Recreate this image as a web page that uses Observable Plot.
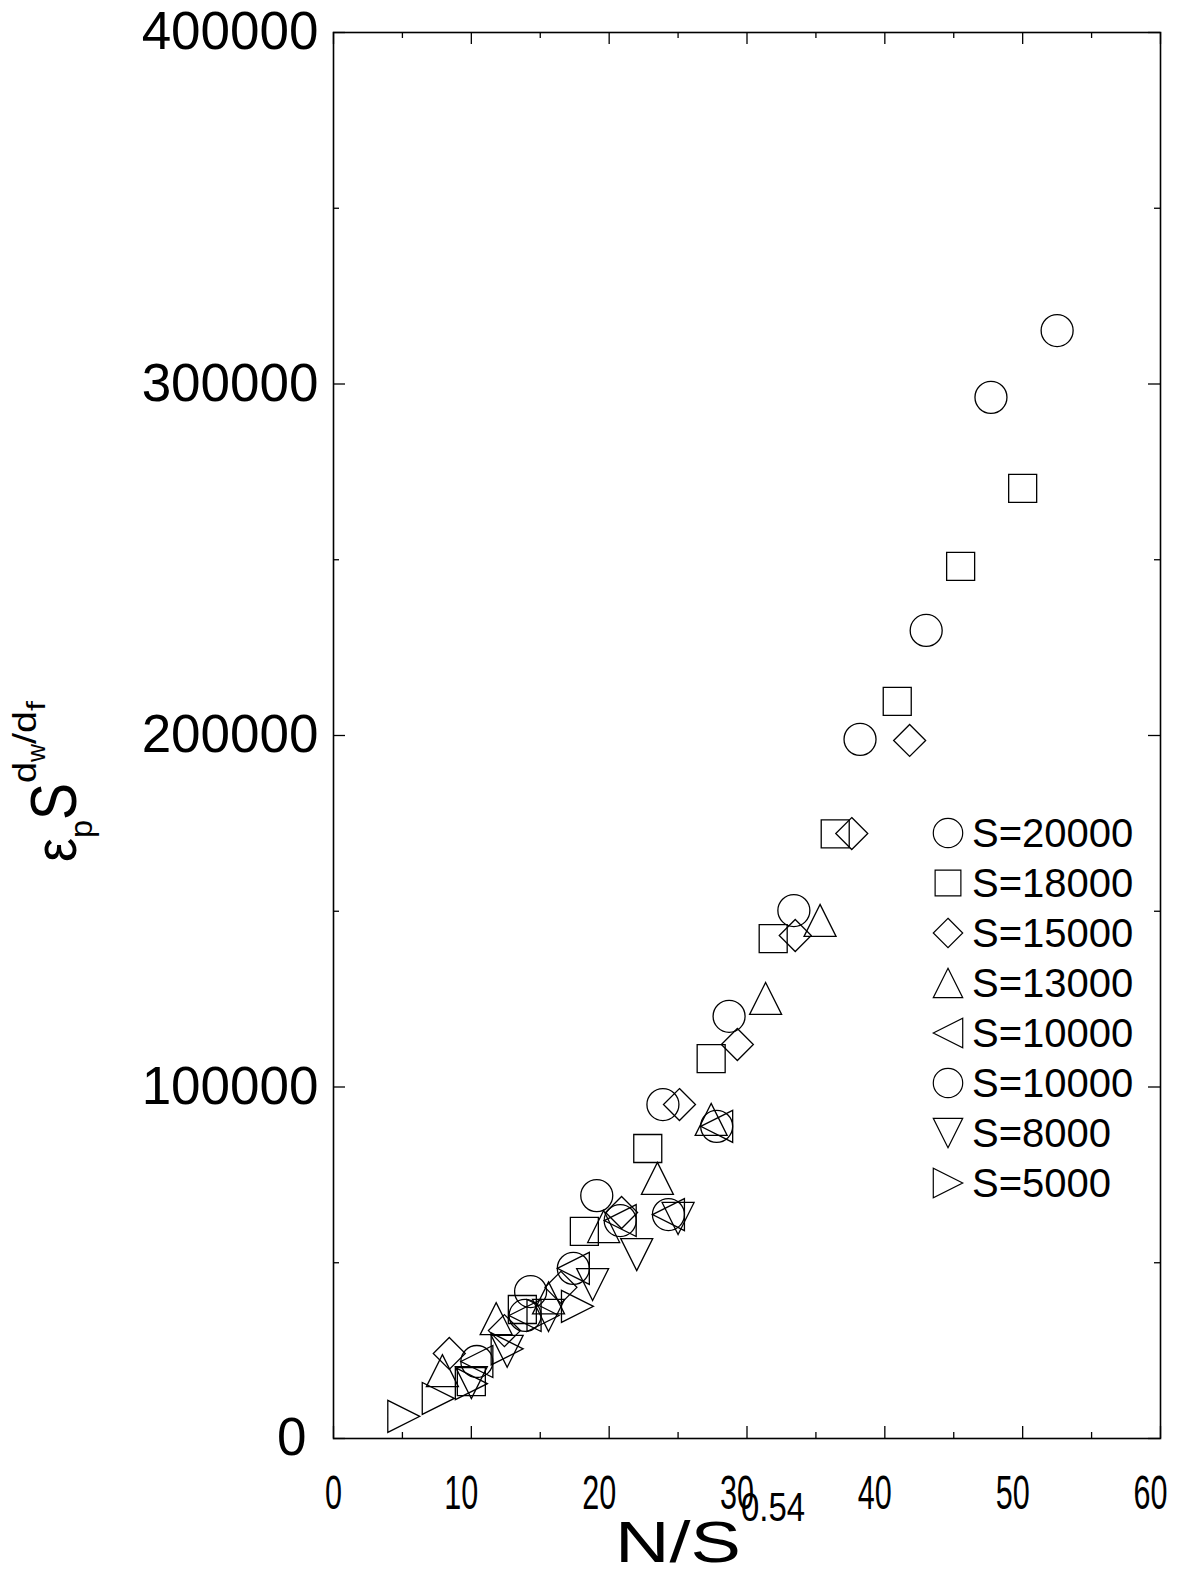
<!DOCTYPE html>
<html><head><meta charset="utf-8">
<script src="https://cdn.jsdelivr.net/npm/d3@7"></script>
<script src="https://cdn.jsdelivr.net/npm/@observablehq/plot@0.6"></script>
<style>body{margin:0;background:#fff;} svg{display:block;}</style>
</head><body><div id="chart"></div>
<script>
// ---- tick values ----
const xTicks = [0, 10, 20, 30, 40, 50, 60];
const xMinorTicks = [5, 15, 25, 35, 45, 55];
const yTicks = [0, 100000, 200000, 300000, 400000];
const yMinorTicks = [50000, 150000, 250000, 350000];

// ---- series data ----
const s20000x = [14.3, 19.1, 23.9, 28.7, 33.4, 38.2, 43.0, 47.7, 52.5];
const s20000y = [41800, 69100, 95000, 120100, 150200, 198900, 229900, 296200, 315200];

const s18000x = [10.0, 13.7, 18.2, 22.8, 27.4, 31.9, 36.4, 40.9, 45.5, 50.0];
const s18000y = [16200, 36700, 58900, 82500, 108100, 142200, 172000, 209700, 248100, 270300];

const s15000x = [8.4, 12.4, 16.5, 20.9, 25.1, 29.3, 33.5, 37.6, 41.8];
const s15000y = [24200, 30700, 43000, 64300, 95000, 112100, 143100, 172100, 198600];

const s13000x = [7.9, 11.8, 15.6, 19.6, 23.5, 27.4, 31.35, 35.3];
const s13000y = [19300, 34100, 40000, 60300, 74000, 90800, 125200, 147400];

const s10000ax = [10.4, 13.9, 17.4, 20.8, 24.3, 27.8];
const s10000ay = [21900, 35000, 48400, 62000, 63700, 88800];

const s10000bx = [10.4, 13.9, 17.4, 20.8, 24.3, 27.8];
const s10000by = [21900, 35000, 48400, 62000, 63700, 88800];

const s8000x = [10.0, 12.6, 15.6, 18.8, 22.0, 25.0];
const s8000y = [15900, 24800, 35000, 43800, 52300, 62600];

const s5000x = [5.1, 7.6, 10.0, 12.6, 15.2, 17.7];
const s5000y = [6300, 11400, 15600, 25500, 35000, 37600];

const legendLabels = ["S=20000", "S=18000", "S=15000", "S=13000", "S=10000", "S=10000", "S=8000", "S=5000"];
const legendShapes = ["circle", "square", "diamond", "up", "left", "circle", "down", "right"];

// ---- symbols ----
function tri(pts) {
  return {draw(ctx) { ctx.moveTo(pts[0][0], pts[0][1]); ctx.lineTo(pts[1][0], pts[1][1]); ctx.lineTo(pts[2][0], pts[2][1]); ctx.closePath(); }};
}
const R = 16;
const symbols = {
  circle: {draw(ctx) { ctx.moveTo(R, 0); ctx.arc(0, 0, R, 0, 2 * Math.PI); ctx.closePath(); }},
  square: {draw(ctx) { const h = 14; ctx.moveTo(-h, -h); ctx.lineTo(h, -h); ctx.lineTo(h, h); ctx.lineTo(-h, h); ctx.closePath(); }},
  diamond: {draw(ctx) { ctx.moveTo(0, -R); ctx.lineTo(R, 0); ctx.lineTo(0, R); ctx.lineTo(-R, 0); ctx.closePath(); }},
  up: tri([[0, -R], [R, R], [-R, R]]),
  down: tri([[0, R], [R, -R], [-R, -R]]),
  left: tri([[-R, 0], [R, -R], [R, R]]),
  right: tri([[R, 0], [-R, -R], [-R, R]])
};

const series = [
  {x: s20000x, y: s20000y, shape: "circle"},
  {x: s18000x, y: s18000y, shape: "square"},
  {x: s15000x, y: s15000y, shape: "diamond"},
  {x: s13000x, y: s13000y, shape: "up"},
  {x: s10000ax, y: s10000ay, shape: "left"},
  {x: s10000bx, y: s10000by, shape: "circle"},
  {x: s8000x, y: s8000y, shape: "down"},
  {x: s5000x, y: s5000y, shape: "right"}
];

const W = 1198, H = 1570;
const mL = 333, mR = 38, mT = 32, mB = 132;
const pw = W - mL - mR, ph = H - mT - mB;
const major = 12, minor = 6;
const FONT = "Liberation Sans, Arial, Helvetica, sans-serif";

const marks = [];
for (const s of series) {
  const rows = s.x.map((v, i) => ({x: v, y: s.y[i]}));
  marks.push(Plot.dot(rows, {x: "x", y: "y", symbol: symbols[s.shape], r: R, stroke: "black", strokeWidth: 1.3, fill: "none"}));
}
// inward ticks on all four sides
marks.push(
  Plot.tickX(xTicks, {x: d => d, insetTop: ph - major, stroke: "black", strokeWidth: 1.3}),
  Plot.tickX(xTicks, {x: d => d, insetBottom: ph - major, stroke: "black", strokeWidth: 1.3}),
  Plot.tickX(xMinorTicks, {x: d => d, insetTop: ph - minor, stroke: "black", strokeWidth: 1.3}),
  Plot.tickX(xMinorTicks, {x: d => d, insetBottom: ph - minor, stroke: "black", strokeWidth: 1.3}),
  Plot.tickY(yTicks, {y: d => d, insetRight: pw - major, stroke: "black", strokeWidth: 1.3}),
  Plot.tickY(yTicks, {y: d => d, insetLeft: pw - major, stroke: "black", strokeWidth: 1.3}),
  Plot.tickY(yMinorTicks, {y: d => d, insetRight: pw - minor, stroke: "black", strokeWidth: 1.3}),
  Plot.tickY(yMinorTicks, {y: d => d, insetLeft: pw - minor, stroke: "black", strokeWidth: 1.3}),
  Plot.frame({stroke: "black", strokeWidth: 1.6}),
  Plot.axisX(xTicks, {tickSize: 0, tickPadding: 36, fontSize: 48, fontFamily: FONT, fill: "black", label: null}),
  Plot.axisY(yTicks, {tickSize: 0, tickPadding: 15, fontSize: 53, fontFamily: FONT, fill: "black", label: null, tickFormat: d3.format("d")})
);

const svg = Plot.plot({
  width: W, height: H,
  marginLeft: mL, marginRight: mR, marginTop: mT, marginBottom: mB,
  x: {domain: [0, 60], label: null},
  y: {domain: [0, 400000], label: null},
  style: {fontFamily: FONT, background: "white", color: "black"},
  marks
});

const root = d3.select(svg);
// narrow x tick labels, laid out from a nominal (unnarrowed) centred start
root.selectAll("g[aria-label='x-axis tick label'] text").each(function() {
  const n = this.textContent.length;
  const dx = n === 1 ? -8.5 : -n * 13.5;
  d3.select(this).attr("text-anchor", "start").attr("dx", dx)
    .attr("textLength", n * 17).attr("lengthAdjust", "spacingAndGlyphs");
});
// the lone "0" y label sits a little left of the right edge line
root.selectAll("g[aria-label='y-axis tick label'] text").each(function() {
  if (this.textContent === "0") d3.select(this).attr("dx", -12);
});

// legend
const legX = 948, legY0 = 833, legDy = 50;
const lg = root.append("g").attr("font-family", FONT).attr("text-anchor", "start");
legendLabels.forEach((lab, i) => {
  const y = legY0 + i * legDy;
  lg.append("path")
    .attr("d", d3.symbol().type(symbols[legendShapes[i]])())
    .attr("transform", `translate(${legX},${y}) scale(0.92)`)
    .attr("fill", "none").attr("stroke", "black").attr("stroke-width", 1.3);
  lg.append("text").attr("x", 972).attr("y", y).attr("dy", "0.36em")
    .attr("font-size", 40).attr("fill", "black").text(lab);
});

// x axis label  N/S^0.54
const xl = root.append("text").attr("x", 615).attr("y", 1562).attr("text-anchor", "start").attr("font-family", FONT).attr("fill", "black");
xl.append("tspan").attr("font-size", 58).attr("textLength", 126).attr("lengthAdjust", "spacingAndGlyphs").text("N/S");
xl.append("tspan").attr("font-size", 40).attr("dy", -41).attr("textLength", 64).attr("lengthAdjust", "spacingAndGlyphs").text("0.54");

// y axis label  ε_p S^{d_w/d_f}
const yl = root.append("text").attr("transform", "translate(76,862) rotate(-90)").attr("text-anchor", "start").attr("font-family", FONT).attr("fill", "black");
yl.append("tspan").attr("font-size", 60).attr("textLength", 24).attr("lengthAdjust", "spacingAndGlyphs").text("ε");
yl.append("tspan").attr("font-size", 32).attr("dy", 16).attr("textLength", 18).attr("lengthAdjust", "spacingAndGlyphs").text("p");
yl.append("tspan").attr("font-size", 65).attr("dy", -16).attr("textLength", 37).attr("lengthAdjust", "spacingAndGlyphs").text("S");
yl.append("tspan").attr("font-size", 34).attr("dy", -40).attr("textLength", 21).attr("lengthAdjust", "spacingAndGlyphs").text("d");
yl.append("tspan").attr("font-size", 26).attr("dy", 9).attr("textLength", 18).attr("lengthAdjust", "spacingAndGlyphs").text("w");
yl.append("tspan").attr("font-size", 34).attr("dy", -9).attr("textLength", 33).attr("lengthAdjust", "spacingAndGlyphs").text("/d");
yl.append("tspan").attr("font-size", 26).attr("dy", 9).attr("textLength", 10).attr("lengthAdjust", "spacingAndGlyphs").text("f");

document.getElementById("chart").appendChild(svg);
</script>
</body></html>
